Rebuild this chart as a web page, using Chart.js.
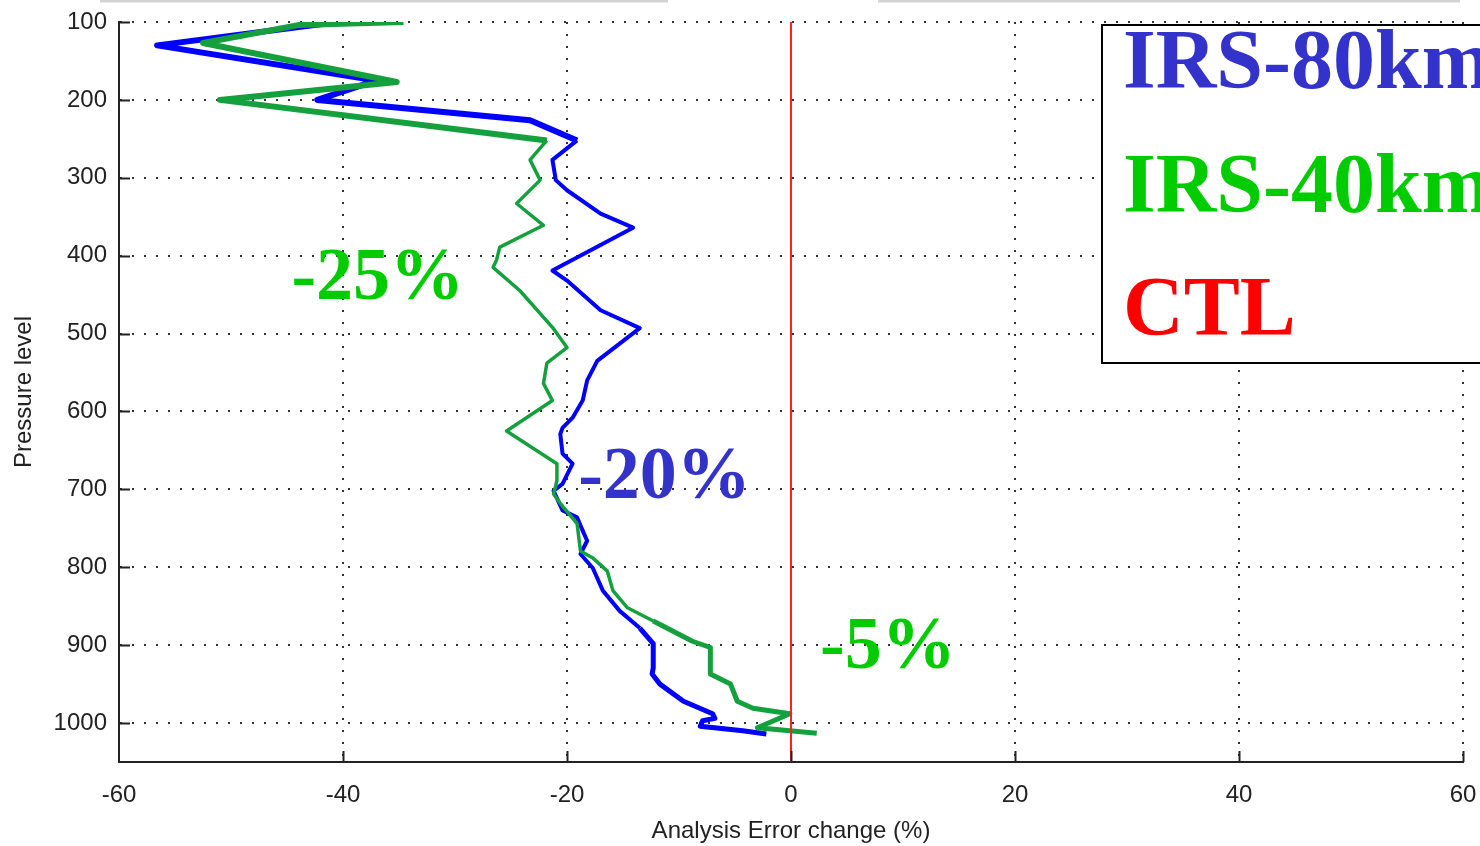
<!DOCTYPE html>
<html>
<head>
<meta charset="utf-8">
<title>Analysis error change profile</title>
<script src="https://cdn.jsdelivr.net/npm/chart.js@4.4.0/dist/chart.umd.min.js"></script>
<style>
  html, body { margin: 0; padding: 0; background: #fff; overflow: hidden; }
  #wrap { width: 1480px; height: 846px; }
</style>
</head>
<body>
<div id="wrap"><canvas id="profile" width="1480" height="846"></canvas></div>
<script>
// Pressure level (hPa) and analysis error change (%) for each run
const irs80Pressure = [100, 130, 175, 200, 226, 252, 277, 303, 316, 346, 364, 419, 432, 470, 493, 535, 560, 586, 608, 621,
  629, 654, 667, 693, 702, 727, 736, 753, 766, 783, 801, 830, 856, 878, 898, 929, 937, 950, 972, 988, 994, 997, 1004, 1010, 1014];
const irs80Change = [-40.5, -56.6, -37.0, -42.3, -23.3, -19.1, -21.3, -21.0, -20.0, -17.0, -14.1, -21.3, -20.0, -17.0, -13.5, -17.3, -18.2, -18.6, -19.5, -20.4,
  -20.6, -20.4, -19.5, -20.4, -21.2, -20.4, -19.1, -18.6, -18.2, -18.8, -17.7, -16.8, -15.3, -13.5, -12.3, -12.3, -12.4, -11.7, -9.6, -7.0, -6.8, -7.9, -8.1, -4.3, -2.2];

const irs40Pressure = [100, 104, 127, 177, 200, 252, 277, 303, 333, 361, 389, 406, 415, 445, 492, 518, 538, 564, 586, 625,
  667, 689, 706, 718, 744, 779, 788, 805, 830, 852, 869, 895, 903, 937, 950, 972, 981, 988, 1006, 1013];
const irs40Change = [-34.6, -44.0, -52.5, -35.2, -51.0, -21.8, -23.3, -22.4, -24.5, -22.1, -26.0, -26.3, -26.6, -24.2, -21.3, -20.0, -21.8, -22.1, -21.3, -25.4,
  -20.9, -20.9, -21.2, -20.6, -19.1, -18.8, -17.7, -16.4, -15.9, -14.6, -12.3, -8.8, -7.2, -7.2, -5.4, -4.8, -3.4, -0.1, -3.0, 2.3];

const ctlPressure = [100, 1050];
const ctlChange = [0, 0];

const changeTicks = [-60, -40, -20, 0, 20, 40, 60];
const pressureTicks = [100, 200, 300, 400, 500, 600, 700, 800, 900, 1000];

const noteTexts = ['-25%', '-20%', '-5%'];

const toPoints = (xs, ps) => xs.map((v, i) => ({ x: v, y: ps[i] }));

// thicker strokes near the top and bottom of the profile
const widthByLevel = (top, mid, low) => ctx => {
  const p = (ctx.p0.parsed.y + ctx.p1.parsed.y) / 2;
  if (p < 245) return top;
  if (p > 880) return low;
  return mid;
};

const overlay = {
  id: 'overlay',
  afterDatasetsDraw(chart) {
    const { ctx, chartArea: a, scales: { x, y } } = chart;
    ctx.save();

    // inward tick marks
    ctx.strokeStyle = '#222';
    ctx.lineWidth = 2;
    ctx.beginPath();
    pressureTicks.forEach(p => {
      const py = Math.round(y.getPixelForValue(p)) + 0.5;
      ctx.moveTo(a.left, py);
      ctx.lineTo(a.left + 11, py);
    });
    changeTicks.slice(1).forEach(v => {
      const px = Math.round(x.getPixelForValue(v)) + 0.5;
      ctx.moveTo(px, a.bottom);
      ctx.lineTo(px, a.bottom - 11);
    });
    ctx.stroke();

    // percentage notes
    const spots = [
      { x: -44.6, p: 455, color: '#00cc00' },
      { x: -19.0, p: 711, color: '#3333cc' },
      { x: 2.6, p: 929, color: '#00cc00' }
    ];
    ctx.font = 'bold 74px "Liberation Serif"';
    ctx.textAlign = 'left';
    ctx.textBaseline = 'alphabetic';
    noteTexts.forEach((t, i) => {
      ctx.fillStyle = spots[i].color;
      ctx.fillText(t, x.getPixelForValue(spots[i].x), y.getPixelForValue(spots[i].p));
    });

    // legend box
    ctx.fillStyle = '#fff';
    ctx.fillRect(1102, 25, 420, 338);
    ctx.strokeStyle = '#000';
    ctx.lineWidth = 2;
    ctx.strokeRect(1102, 25, 420, 338);
    ctx.font = 'bold 84px "Liberation Serif"';
    chart.data.datasets.forEach((ds, i) => {
      ctx.fillStyle = ds.legendColor;
      ctx.fillText(ds.label, 1123, 88 + i * 123.5);
    });

    // faint frame line along the top edge
    ctx.strokeStyle = '#d4d4d4';
    ctx.lineWidth = 3;
    ctx.beginPath();
    ctx.moveTo(100, 1); ctx.lineTo(668, 1);
    ctx.moveTo(878, 1); ctx.lineTo(1460, 1);
    ctx.stroke();

    ctx.restore();
  }
};

const axisFont = { family: '"Liberation Sans", Arial, sans-serif', size: 24 };

new Chart(document.getElementById('profile'), {
  type: 'scatter',
  data: {
    datasets: [
      {
        label: 'IRS-80km',
        legendColor: '#3333cc',
        data: toPoints(irs80Change, irs80Pressure),
        showLine: true,
        borderColor: '#0000ff',
        borderWidth: 4,
        pointRadius: 0,
        borderJoinStyle: 'round',
        order: 2,
        segment: { borderWidth: widthByLevel(6, 4, 5) }
      },
      {
        label: 'IRS-40km',
        legendColor: '#00cc00',
        data: toPoints(irs40Change, irs40Pressure),
        showLine: true,
        borderColor: '#14a03c',
        borderWidth: 3.5,
        pointRadius: 0,
        borderJoinStyle: 'round',
        order: 1,
        segment: { borderWidth: widthByLevel(6, 3.5, 5) }
      },
      {
        label: 'CTL',
        legendColor: '#ff0000',
        data: toPoints(ctlChange, ctlPressure),
        showLine: true,
        borderColor: '#ff2020',
        borderWidth: 2,
        pointRadius: 0,
        order: 0
      }
    ]
  },
  options: {
    responsive: false,
    animation: false,
    layout: { padding: { top: 22, right: 17, left: 0, bottom: 0 } },
    plugins: {
      legend: { display: false },
      tooltip: { enabled: false }
    },
    scales: {
      x: {
        type: 'linear',
        min: -60,
        max: 60,
        afterFit: s => { s.height = 84; s.paddingLeft = 0; s.paddingRight = 0; },
        afterBuildTicks: s => { s.ticks = changeTicks.map(v => ({ value: v })); },
        ticks: { color: '#222', font: axisFont, padding: 19, maxRotation: 0, callback: v => String(v) },
        grid: { color: '#333', lineWidth: 2, drawTicks: false },
        border: { display: true, color: '#222', width: 2, dash: [2, 10] },
        title: {
          display: true,
          text: 'Analysis Error change (%)',
          color: '#222',
          font: axisFont,
          padding: { top: 0, bottom: 0 }
        }
      },
      y: {
        type: 'linear',
        reverse: true,
        min: 100,
        max: 1050,
        afterFit: s => { s.width = 119; s.paddingTop = 0; s.paddingBottom = 0; },
        afterBuildTicks: s => { s.ticks = pressureTicks.map(v => ({ value: v })); },
        ticks: { color: '#222', font: axisFont, padding: 12, callback: v => String(v) },
        grid: { color: '#333', lineWidth: 2, drawTicks: false },
        border: { display: true, color: '#222', width: 2, dash: [2, 10] },
        title: {
          display: true,
          text: 'Pressure level',
          color: '#222',
          font: axisFont,
          padding: { top: 10, bottom: 0 }
        }
      }
    }
  },
  plugins: [overlay]
});
</script>
</body>
</html>
